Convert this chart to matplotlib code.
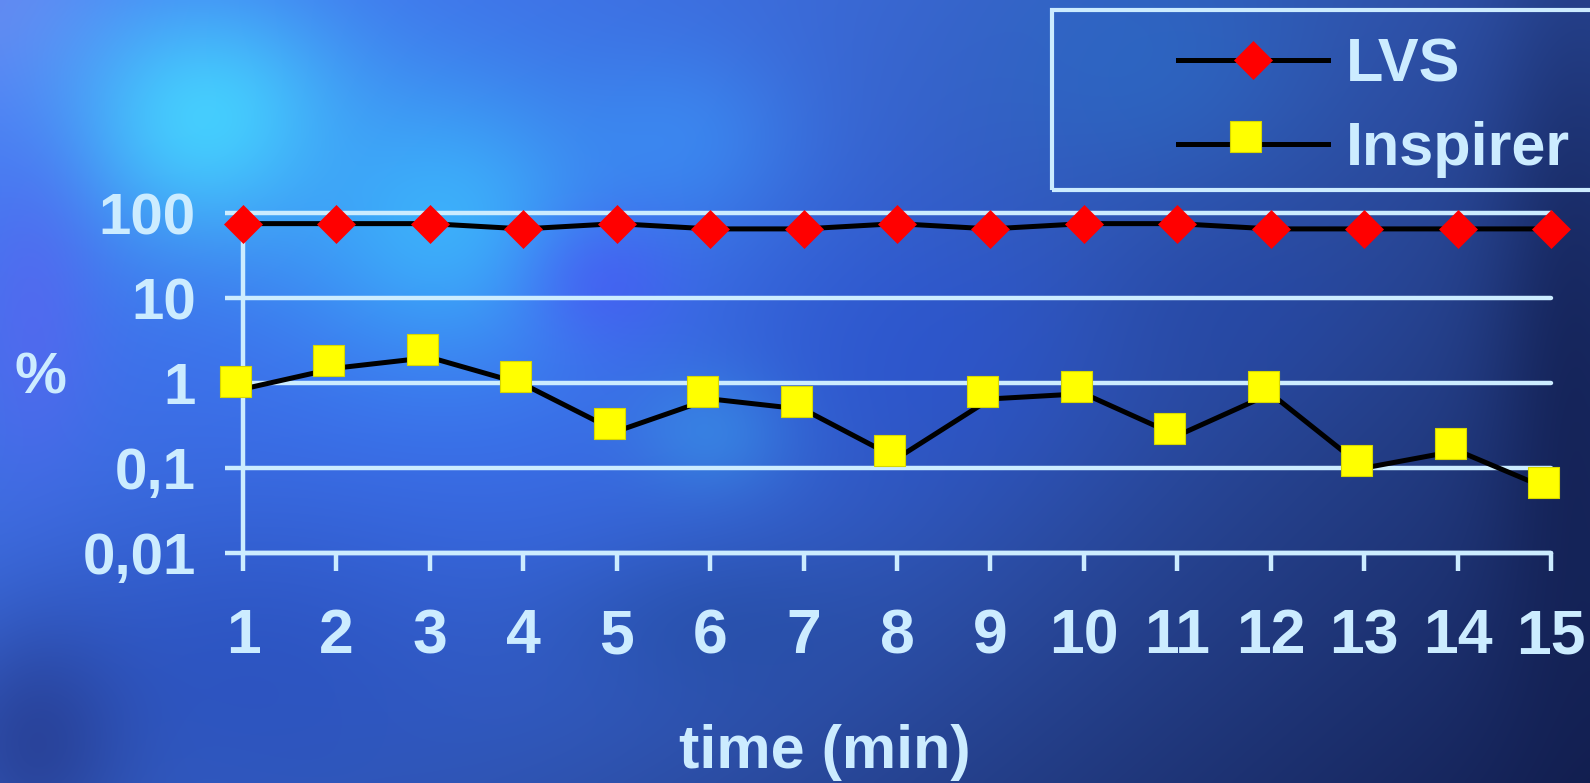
import numpy as np
import matplotlib
matplotlib.use("Agg")
import matplotlib.pyplot as plt
from matplotlib.path import Path
from matplotlib.patches import Rectangle
from matplotlib.ticker import NullLocator

# ---------------- data ----------------
time_min = [1, 2, 3, 4, 5, 6, 7, 8, 9, 10, 11, 12, 13, 14, 15]
lvs = [75, 75, 75, 65, 75, 65, 65, 75, 65, 75, 75, 65, 65, 65, 65]
inspirer = [0.85, 1.5, 2.0, 0.97, 0.27, 0.65, 0.49, 0.13, 0.65, 0.75, 0.24, 0.75, 0.10, 0.16, 0.055]
series_names = ["LVS", "Inspirer"]
y_ticks = [0.01, 0.1, 1, 10, 100]
y_tick_labels = ["0,01", "0,1", "1", "10", "100"]
x_label = "time (min)"
y_label = "%"

LB = "#CCECFF"
plt.rcParams['font.family'] = ['Liberation Sans', 'DejaVu Sans']
plt.rcParams['font.weight'] = 'bold'

W, H = 1590, 783
fig = plt.figure(figsize=(W / 100, H / 100), dpi=100)

# ---------------- background texture ----------------
yy, xx = np.mgrid[0:1:300j, 0:1:600j]
t = np.clip(0.6 * xx + 0.35 * yy, 0, 1) ** 1.3
c0 = np.array([70, 125, 245]) / 255.0
c1 = np.array([16, 26, 72]) / 255.0
img = c0[None, None, :] * (1 - t[..., None]) + c1[None, None, :] * t[..., None]

def blend(img, color, cx, cy, sx, sy, a):
    w = a * np.exp(-(((xx - cx) / sx) ** 2 + ((yy - cy) / sy) ** 2))
    col = np.array(color) / 255.0
    return img * (1 - w[..., None]) + col[None, None, :] * w[..., None]

img = blend(img, (60, 115, 250), 0.30, 0.45, 0.30, 0.45, 0.7)
img = blend(img, (110, 140, 240), 0.00, 0.00, 0.08, 0.15, 0.7)
img = blend(img, (70, 215, 255), 0.13, 0.15, 0.09, 0.16, 0.9)
img = blend(img, (60, 195, 255), 0.28, 0.28, 0.10, 0.18, 0.75)
img = blend(img, (60, 160, 255), 0.43, 0.18, 0.07, 0.12, 0.45)
img = blend(img, (75, 80, 245), 0.38, 0.36, 0.05, 0.09, 0.55)
img = blend(img, (90, 100, 240), 0.02, 0.40, 0.04, 0.20, 0.6)
img = blend(img, (60, 170, 240), 0.45, 0.55, 0.05, 0.08, 0.45)
img = blend(img, (40, 110, 200), 0.72, 0.08, 0.10, 0.15, 0.5)
img = blend(img, (40, 80, 210), 0.58, 0.45, 0.12, 0.18, 0.5)
img = blend(img, (35, 70, 170), 0.78, 0.40, 0.08, 0.12, 0.4)
img = blend(img, (35, 70, 180), 0.15, 0.85, 0.15, 0.20, 0.5)
img = blend(img, (30, 40, 110), 0.02, 0.95, 0.06, 0.15, 0.5)
img = blend(img, (30, 70, 150), 0.45, 0.80, 0.10, 0.10, 0.4)
img = blend(img, (15, 25, 70), 0.99, 0.50, 0.05, 0.50, 0.6)
img = np.clip(img, 0, 1)

bg = fig.add_axes([0, 0, 1, 1], zorder=-10)
bg.imshow(img, aspect='auto', extent=[0, 1, 0, 1], interpolation='bicubic')
bg.set_axis_off()

# ---------------- main axes ----------------
ax = fig.add_axes([243 / W, 1 - 553 / H, 1308 / W, 340 / H])
ax.set_facecolor('none')
ax.set_yscale('log')
ax.set_ylim(0.01, 100)
ax.set_xlim(1, 15)

# square marker drawn slightly up-left of its point (as in the reference)
d = 0.25
sq = Path([(-0.5 - d, -0.5 + d), (0.5 - d, -0.5 + d), (0.5 - d, 0.5 + d),
           (-0.5 - d, 0.5 + d), (-0.5 - d, -0.5 + d)],
          [Path.MOVETO, Path.LINETO, Path.LINETO, Path.LINETO, Path.CLOSEPOLY])

ax.plot(time_min, lvs, color='black', lw=3.6, marker='D', ms=19.5,
        mfc='#FF0000', mec='#FF0000', mew=0.5, clip_on=False, zorder=5,
        label=series_names[0], solid_joinstyle='round')
ax.plot(time_min, inspirer, color='black', lw=3.6, marker=sq, ms=33,
        mfc='#FFFF00', mec='#D8D800', mew=0.8, clip_on=False, zorder=5,
        label=series_names[1], solid_joinstyle='round')

ax.set_yticks(y_ticks)
ax.set_yticklabels(y_tick_labels)
ax.yaxis.set_minor_locator(NullLocator())
ax.set_xticks(time_min)
ax.set_xticklabels([str(v) for v in time_min])

ax.tick_params(axis='both', length=13, width=3.2, color=LB, direction='out',
               labelcolor=LB)
ax.tick_params(axis='y', labelsize=42, pad=21)
ax.tick_params(axis='x', labelsize=45, pad=26)
for lab in ax.get_xticklabels() + ax.get_yticklabels():
    lab.set_fontweight('bold')

ax.yaxis.grid(True, color=LB, lw=3.2, solid_capstyle='round')
ax.set_axisbelow(True)
for tk in ax.yaxis.get_major_ticks():
    tk.gridline.set_clip_on(False)

for side in ['top', 'right']:
    ax.spines[side].set_visible(False)
for side in ['left', 'bottom']:
    ax.spines[side].set_color(LB)
    ax.spines[side].set_linewidth(3.2)
    ax.spines[side].set_capstyle('round')

fig.text(40 / W, 1 - 378 / H, y_label, color=LB, fontsize=42, fontweight='bold',
         ha='center', va='center')
fig.text(825 / W, 1 - 768 / H, x_label, color=LB, fontsize=44, fontweight='bold',
         ha='center', va='baseline')

# ---------------- legend ----------------
leg = ax.legend(loc='center left', bbox_to_anchor=(1178 / W, 1 - 108 / H),
                bbox_transform=fig.transFigure, frameon=False, borderpad=0,
                borderaxespad=0, handlelength=2.45, handletextpad=0.3,
                labelspacing=0.43, prop={'weight': 'bold', 'size': 44})
for txt in leg.get_texts():
    txt.set_color(LB)

fig.add_artist(Rectangle((1052 / W, 1 - 190 / H), 0.4, 180 / H,
                         transform=fig.transFigure, fill=False,
                         edgecolor=LB, lw=3, clip_on=False))

fig.savefig("out.png", dpi=100)
